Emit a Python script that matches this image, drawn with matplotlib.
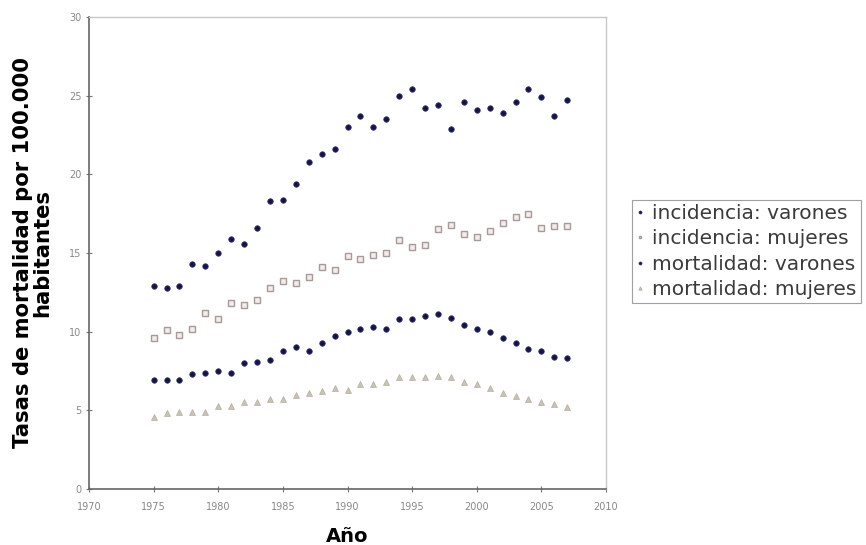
import matplotlib
matplotlib.use("Agg")
import matplotlib.pyplot as plt

years = list(range(1975, 2008))
inc_varones = [12.9, 12.8, 12.9, 14.3, 14.2, 15.0, 15.9, 15.6, 16.6, 18.3, 18.4, 19.4,
               20.8, 21.3, 21.6, 23.0, 23.7, 23.0, 23.5, 25.0, 25.4, 24.2, 24.4, 22.9,
               24.6, 24.1, 24.2, 23.9, 24.6, 25.4, 24.9, 23.7, 24.7]
inc_mujeres = [9.6, 10.1, 9.8, 10.2, 11.2, 10.8, 11.8, 11.7, 12.0, 12.8, 13.2, 13.1,
               13.5, 14.1, 13.9, 14.8, 14.6, 14.9, 15.0, 15.8, 15.4, 15.5, 16.5, 16.8,
               16.2, 16.0, 16.4, 16.9, 17.3, 17.5, 16.6, 16.7, 16.7]
mort_varones = [6.9, 6.9, 6.9, 7.3, 7.4, 7.5, 7.4, 8.0, 8.1, 8.2, 8.8, 9.0,
                8.8, 9.3, 9.7, 10.0, 10.2, 10.3, 10.2, 10.8, 10.8, 11.0, 11.1, 10.9,
                10.4, 10.2, 10.0, 9.6, 9.3, 8.9, 8.8, 8.4, 8.3]
mort_mujeres = [4.6, 4.8, 4.9, 4.9, 4.9, 5.3, 5.3, 5.5, 5.5, 5.7, 5.7, 6.0,
                6.1, 6.2, 6.4, 6.3, 6.7, 6.7, 6.8, 7.1, 7.1, 7.1, 7.2, 7.1,
                6.8, 6.7, 6.4, 6.1, 5.9, 5.7, 5.5, 5.4, 5.2]
labels = ["incidencia: varones", "incidencia: mujeres",
          "mortalidad: varones", "mortalidad: mujeres"]
xticks = [1970, 1975, 1980, 1985, 1990, 1995, 2000, 2005, 2010]
yticks = [0, 5, 10, 15, 20, 25, 30]

fig = plt.figure(figsize=(8.66, 5.45), dpi=100)
ax = fig.add_axes([89/866, 1-489/545, (606-89)/866, (489-17)/545])

navy = "#14144a"
ax.plot(years, inc_varones, linestyle="none", marker="o", ms=4,
        mfc=navy, mec="#3a3a70", mew=0.5, label=labels[0])
ax.plot(years, inc_mujeres, linestyle="none", marker="s", ms=3.8,
        mfc="#f2ecea", mec="#a89a98", mew=1.0, label=labels[1])
ax.plot(years, mort_varones, linestyle="none", marker="o", ms=4,
        mfc=navy, mec="#3a3a70", mew=0.5, label=labels[2])
ax.plot(years, mort_mujeres, linestyle="none", marker="^", ms=4.5,
        mfc="#c8c3b4", mec="#b4ae9e", mew=0.5, label=labels[3])

ax.set_xlim(1970, 2010)
ax.set_ylim(0, 30)
ax.set_xticks(xticks)
ax.set_yticks(yticks)
ax.tick_params(direction="inout", length=4, width=0.8, colors="#777777",
               labelsize=7, labelcolor="#888888")
ax.tick_params(axis="x", pad=7)
for s in ["left", "bottom"]:
    ax.spines[s].set_color("#666666")
    ax.spines[s].set_linewidth(1.2)
for s in ["top", "right"]:
    ax.spines[s].set_color("#c8c8c8")
    ax.spines[s].set_linewidth(1.0)

ax.set_xlabel("Año", fontsize=14, fontweight="bold", labelpad=11)
ax.set_ylabel("Tasas de mortalidad por 100.000\nhabitantes", fontsize=15.2,
              fontweight="bold", labelpad=12, linespacing=0.95)

leg = fig.legend(loc="upper left", bbox_to_anchor=(632/866, 1-200/545),
                 frameon=True, fancybox=False, fontsize=14.5, handlelength=0.4,
                 handletextpad=0.4, borderpad=0.2, labelspacing=0.32,
                 markerscale=0.55, borderaxespad=0)
leg.get_frame().set_edgecolor("#888888")
leg.get_frame().set_linewidth(0.8)
for t in leg.get_texts():
    t.set_color("#3a3a3a")

fig.savefig("out.png", dpi=100)
